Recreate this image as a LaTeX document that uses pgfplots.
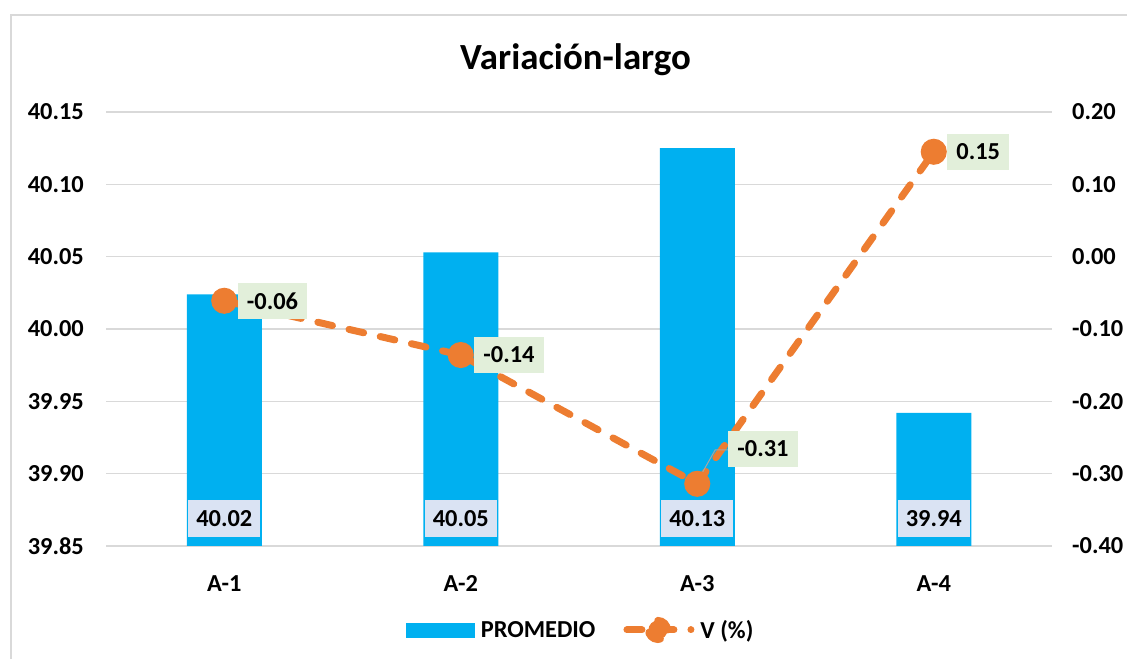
\documentclass[border=0pt]{standalone}
\usepackage{pgfplots}
\pgfplotsset{compat=1.18}
\usepackage{fontspec}
\setmainfont{Carlito}
\definecolor{barblue}{HTML}{00B0F0}
\definecolor{lineor}{HTML}{ED7D31}
\definecolor{gridg}{HTML}{D9D9D9}
\definecolor{lblblue}{HTML}{DAE3F3}
\definecolor{lblgreen}{HTML}{E2EFDA}
\newcommand{\lblfont}{\fontsize{24.5}{28}\selectfont\bfseries}
\begin{document}
\begin{tikzpicture}[x=1bp,y=1bp]
\useasboundingbox (0,0) rectangle (1127,659);
\draw[gridg, line width=1.5bp] (11,-20) rectangle (1150,644);
\node[font=\fontsize{37}{44}\selectfont\bfseries, anchor=base] at (575.5,589) {Variación-largo};
\begin{axis}[
  at={(106bp,113bp)}, anchor=south west,
  scale only axis, width=946bp, height=434bp,
  xmin=-0.5, xmax=3.5, ymin=39.85, ymax=40.15,
  xtick={0,1,2,3}, xticklabels={A-1,A-2,A-3,A-4},
  ytick={39.85,39.9,39.95,40,40.05,40.1,40.15},
  /pgf/number format/fixed, /pgf/number format/fixed zerofill,
  /pgf/number format/precision=2, /pgf/number format/assume math mode=true,
  tick label style={font=\lblfont, text=black},
  yticklabel style={anchor=east, inner sep=0pt, xshift=-22bp},
  xticklabel style={anchor=north, inner sep=0pt, yshift=-29bp},
  major tick length=0pt, axis line style={draw=none},
  ymajorgrids, grid style={gridg, line width=1.3bp},
]
\addplot[ybar, bar width=75bp, fill=barblue, draw=none] coordinates {(0,40.024) (1,40.053) (2,40.125) (3,39.942)};
\addplot[draw=none, mark=none, point meta=explicit symbolic, nodes near coords,
  every node near coord/.style={anchor=center, fill=lblblue, font=\lblfont, minimum width=72bp, minimum height=37bp, inner sep=0pt, text=black}]
  coordinates {(0,39.869)[40.02] (1,39.869)[40.05] (2,39.869)[40.13] (3,39.869)[39.94]};
\end{axis}
\begin{axis}[
  at={(106bp,113bp)}, anchor=south west,
  scale only axis, width=946bp, height=434bp,
  xmin=-0.5, xmax=3.5, ymin=-0.4, ymax=0.2,
  hide x axis, axis y line*=right,
  ytick={-0.4,-0.3,-0.2,-0.1,0,0.1,0.2},
  /pgf/number format/fixed, /pgf/number format/fixed zerofill,
  /pgf/number format/precision=2, /pgf/number format/assume math mode=true,
  tick label style={font=\lblfont, text=black},
  yticklabel style={anchor=west, inner sep=0pt, xshift=20bp},
  major tick length=0pt, axis line style={draw=none},
  legend style={at={(0.502,-0.1935)}, anchor=center, draw=none, fill=none, font=\lblfont,
    /tikz/every odd column/.append style={column sep=4bp},
    /tikz/every even column/.append style={column sep=26bp}},
  legend columns=-1, legend cell align=left,
]
\addlegendimage{legend image code/.code={\fill[barblue] (0bp,-7bp) rectangle (68bp,7bp);}}
\addlegendentry{PROMEDIO}
\addplot[lineor, line width=7bp, line cap=round, dash pattern=on 15bp off 17bp,
  mark=*, mark size=9.5bp, mark options={solid, fill=lineor, draw=none},
  legend image code/.code={\draw[lineor, line width=7bp, line cap=round, dash pattern=on 15bp off 17bp] (4bp,0bp) -- (68bp,0bp); \fill[lineor] (35bp,0bp) circle (9.5bp);}]
  coordinates {(0,-0.061) (1,-0.136) (2,-0.314) (3,0.145)};
\addlegendentry{V (\%)}
\addplot[draw=none, mark=none, point meta=explicit symbolic, nodes near coords, forget plot,
  every node near coord/.style={anchor=west, xshift=13.5bp, fill=lblgreen, font=\lblfont, inner xsep=9bp, inner ysep=0pt, minimum height=36bp, text=black}]
  coordinates {(0,-0.061)[-0.06] (1,-0.136)[-0.14] (3,0.145)[0.15]};
\addplot[draw=none, mark=none, point meta=explicit symbolic, nodes near coords, forget plot,
  every node near coord/.style={anchor=west, xshift=31bp, yshift=35bp, fill=lblgreen, font=\lblfont, inner xsep=9bp, inner ysep=0pt, minimum height=36bp, text=black}]
  coordinates {(2,-0.314)[-0.31]};
\draw[gray!70, line width=1bp] (axis cs:2,-0.314) ++(1bp,4bp) -- ++(17bp,30bp) -- ++(13bp,0bp);
\end{axis}
\end{tikzpicture}
\end{document}
